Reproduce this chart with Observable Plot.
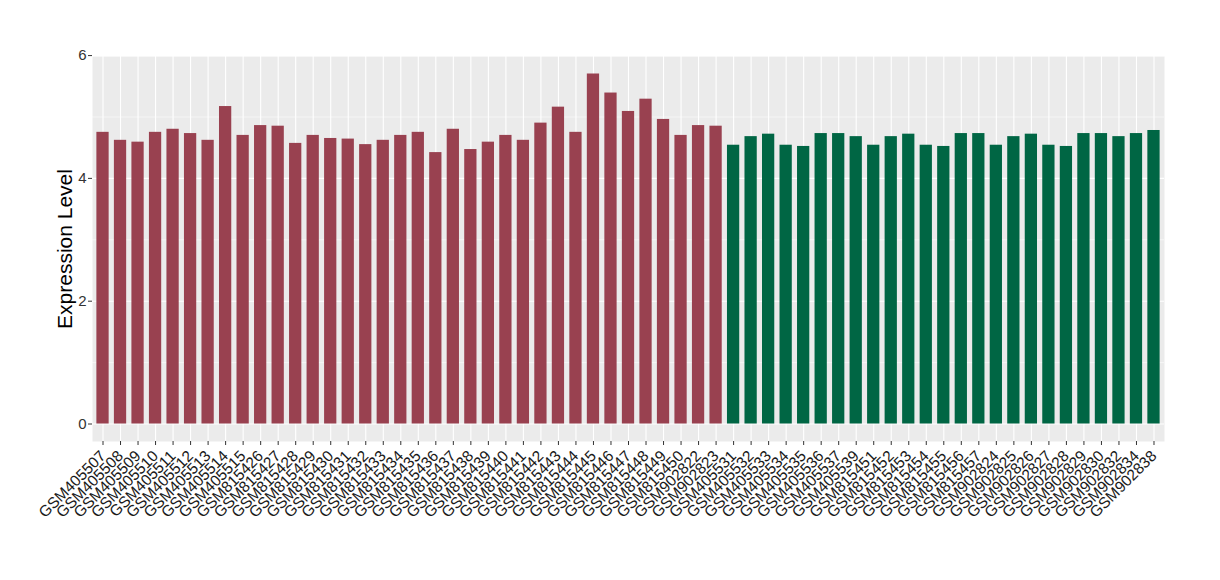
<!DOCTYPE html>
<html>
<head>
<meta charset="utf-8">
<script src="https://cdn.jsdelivr.net/npm/d3@7"></script>
<script src="https://cdn.jsdelivr.net/npm/@observablehq/plot@0.6"></script>
<style>
  html, body { margin: 0; padding: 0; background: #fff; overflow: hidden; }
  #chart svg { display: block; }
</style>
</head>
<body>
<div id="chart"></div>
<script>
const samplesA = [
  "GSM405507","GSM405508","GSM405509","GSM405510","GSM405511","GSM405512","GSM405513","GSM405514","GSM405515",
  "GSM815426","GSM815427","GSM815428","GSM815429","GSM815430","GSM815431","GSM815432","GSM815433","GSM815434",
  "GSM815435","GSM815436","GSM815437","GSM815438","GSM815439","GSM815440","GSM815441","GSM815442","GSM815443",
  "GSM815444","GSM815445","GSM815446","GSM815447","GSM815448","GSM815449","GSM815450","GSM902822","GSM902823"
];
const valuesA = [
  4.75, 4.62, 4.59, 4.75, 4.80, 4.73, 4.62, 5.17, 4.70,
  4.86, 4.85, 4.57, 4.70, 4.65, 4.64, 4.55, 4.62, 4.70,
  4.75, 4.42, 4.80, 4.47, 4.59, 4.70, 4.62, 4.90, 5.16,
  4.75, 5.70, 5.39, 5.09, 5.29, 4.96, 4.70, 4.86, 4.85
];
const samplesB = [
  "GSM405531","GSM405532","GSM405533","GSM405534","GSM405535","GSM405536","GSM405537","GSM405539",
  "GSM815451","GSM815452","GSM815453","GSM815454","GSM815455","GSM815456","GSM815457",
  "GSM902824","GSM902825","GSM902826","GSM902827","GSM902828","GSM902829","GSM902830",
  "GSM902832","GSM902834","GSM902838"
];
const valuesB = [
  4.54, 4.68, 4.72, 4.54, 4.52, 4.73, 4.73, 4.68,
  4.54, 4.68, 4.72, 4.54, 4.52, 4.73, 4.73,
  4.54, 4.68, 4.72, 4.54, 4.52, 4.73, 4.73,
  4.68, 4.73, 4.78
];
const groupColors = ["#994150", "#006644"];
const yMajor = [0, 2, 4, 6];
const yMinor = [1, 3, 5];
const yTitle = "Expression Level";

const rows = [
  ...samplesA.map((s, i) => ({sample: s, value: valuesA[i], group: "A"})),
  ...samplesB.map((s, i) => ({sample: s, value: valuesB[i], group: "B"}))
];
const allSamples = rows.map(d => d.sample);
const maxV = d3.max(rows, d => d.value);

const chart = Plot.plot({
  width: 1220,
  height: 580,
  marginLeft: 92,
  marginRight: 56,
  marginTop: 56,
  marginBottom: 139,
  style: {fontFamily: "'Liberation Sans', Arial, sans-serif", fontSize: "15px", background: "#fff"},
  x: {domain: allSamples, paddingInner: 0.3, paddingOuter: 0.25, label: null},
  y: {domain: [-0.05 * maxV, maxV * 1.05], label: null},
  color: {domain: ["A", "B"], range: groupColors},
  marks: [
    Plot.frame({fill: "#EBEBEB", stroke: null}),
    Plot.ruleY(yMinor, {stroke: "#fff", strokeWidth: 0.55}),
    Plot.ruleY(yMajor, {stroke: "#fff", strokeWidth: 1.1}),
    Plot.ruleX(allSamples, {x: d => d, stroke: "#fff", strokeWidth: 1.1}),
    Plot.barY(rows, {x: "sample", y: "value", fill: "group"}),
    Plot.axisY({ticks: yMajor, tickFormat: d => String(d), tickSize: 4, tickPadding: 2, fontSize: 15,
      color: "#333", label: null, stroke: "#333"}),
    Plot.axisX({tickSize: 4, tickPadding: 8, tickRotate: -45, fontSize: 15.5, color: "#1a1a1a", label: null, stroke: "#333"}),
    Plot.text([yTitle], {frameAnchor: "left", dx: -27, rotate: -90, fontSize: 21, fill: "#000", lineAnchor: "middle", textAnchor: "middle"})
  ]
});
document.getElementById("chart").appendChild(chart);
</script>
</body>
</html>
